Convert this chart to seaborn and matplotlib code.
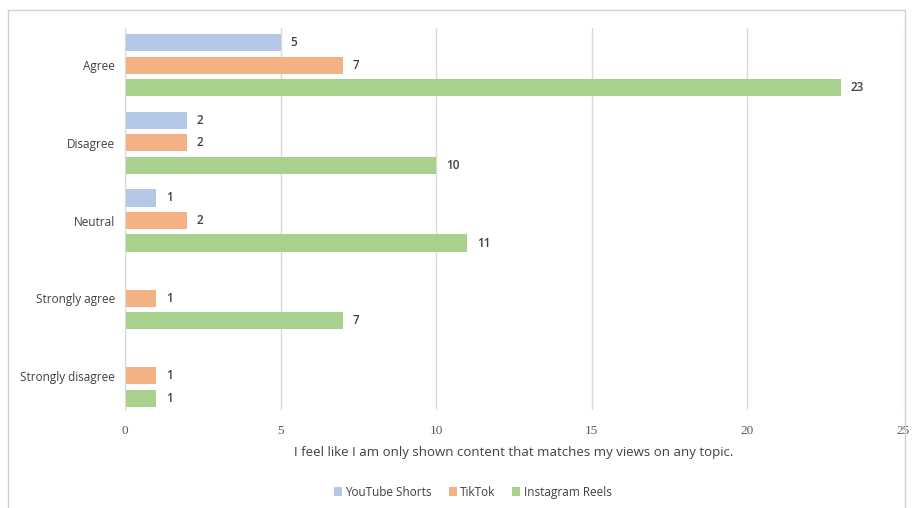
import matplotlib
matplotlib.use("Agg")
import matplotlib.pyplot as plt
import seaborn as sns
import pandas as pd
import numpy as np
from matplotlib.patches import Rectangle

categories = ["Agree", "Disagree", "Neutral", "Strongly agree", "Strongly disagree"]
platforms = ["YouTube Shorts", "TikTok", "Instagram Reels"]
youtube = [5, 2, 1, np.nan, np.nan]
tiktok = [7, 2, 2, 1, 1]
instagram = [23, 10, 11, 7, 1]
colors = ["#b4c7e7", "#f4b183", "#a9d18e"]

rows = []
for plat, vals in zip(platforms, [youtube, tiktok, instagram]):
    for c, v in zip(categories, vals):
        rows.append({"Response": c, "Platform": plat, "Count": v})
df = pd.DataFrame(rows)

sns.set_style("white")
plt.rcParams["font.family"] = ["Open Sans", "DejaVu Sans"]

fig = plt.figure(figsize=(9.14, 5.08), dpi=100)
ax = fig.add_axes([0.1368, 0.193, 0.8512, 0.752])

sns.barplot(data=df, y="Response", x="Count", hue="Platform", order=categories,
            hue_order=platforms, palette=colors, orient="h", width=0.87, gap=0.24,
            ax=ax, legend=True, errorbar=None, saturation=1, linewidth=0,
            edgecolor="none")

for cont in ax.containers:
    labels = ["" if np.isnan(w) or w == 0 else f"{int(w)}" for w in cont.datavalues]
    ax.bar_label(cont, labels=labels, padding=7, fontsize=8.5, color="#404040",
                 fontweight="semibold")

ax.set_xlim(0, 25)
ax.set_ylim(4.44, -0.48)
ax.set_xticks([0, 5, 10, 15, 20, 25])
for lbl in ax.get_xticklabels():
    lbl.set_fontfamily(["Liberation Serif", "DejaVu Serif"])
ax.tick_params(axis="x", labelsize=9.5, colors="#595959", length=0, pad=11)
ax.tick_params(axis="y", labelsize=8.5, colors="#404040", length=0, pad=7)
ax.grid(axis="x", color="#d9d9d9", linewidth=1)
ax.set_axisbelow(True)
for s in ["top", "right", "bottom"]:
    ax.spines[s].set_visible(False)
ax.spines["left"].set_color("#d9d9d9")
ax.set_ylabel("")
ax.set_xlabel("I feel like I am only shown content that matches my views on any topic.",
              fontsize=9.5, color="#404040", labelpad=6)

leg = ax.legend(loc="upper center", bbox_to_anchor=(0.447, -0.17), ncol=3, frameon=False,
                fontsize=8.5, handlelength=0.7, handleheight=0.7, handletextpad=0.3,
                columnspacing=1.4)
for t in leg.get_texts():
    t.set_color("#404040")

fig.patches.append(Rectangle((8 / 914, -0.1), 897 / 914, 1 - 10 / 508 + 0.1,
                             transform=fig.transFigure, fill=False,
                             edgecolor="#d0d0d0", linewidth=1, zorder=0))

fig.savefig("out.png", dpi=100)
